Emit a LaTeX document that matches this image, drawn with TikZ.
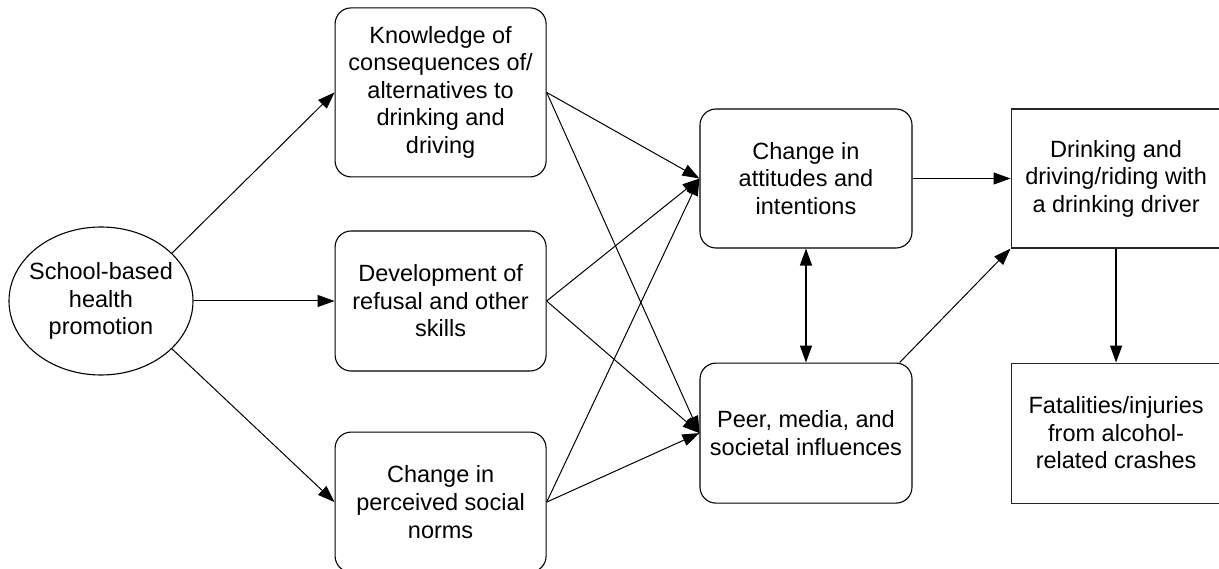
\documentclass[tikz,border=0pt]{standalone}
\usepackage{fontspec}
\setmainfont{Liberation Sans}
\usetikzlibrary{positioning,shapes.geometric,arrows.meta}

\begin{document}
\begin{tikzpicture}[
        x=1pt, y=-1pt,
        txt/.style={font=\fontsize{23.5}{27.5}\selectfont, align=center},
        program/.style={ellipse, draw=black, line width=1.1pt, txt, inner xsep=-10pt, minimum width=184pt, minimum height=148pt},
        factor/.style={rectangle, rounded corners=16pt, draw=black, line width=1.1pt, txt, minimum width=211pt, minimum height=140pt},
        outcome/.style={rectangle, draw=black!85, line width=1.1pt, txt, minimum width=210pt, minimum height=139pt},
        link/.style={-{Triangle[length=17pt, width=12pt]}, line width=1pt},
        mutual/.style={{Triangle[length=17pt, width=12pt]}-{Triangle[length=17pt, width=12pt]}, line width=1.3pt},
    ]
    \useasboundingbox (0,0) rectangle (1219,569);

    \node[program] (school) at (101,301) {School-based\\health\\promotion};
    \node[factor] (skills) [right=141pt of school] {Development of\\refusal and other\\skills};
    \node[factor, minimum height=169pt] (know) [above=53pt of skills] {Knowledge of\\consequences of/\\alternatives to\\drinking and\\driving};
    \node[factor] (norms) [below=60pt of skills] {Change in\\perceived social\\norms};

    \node[factor, minimum width=212pt, minimum height=139pt] (attitude) at (806,178.5) {Change in\\attitudes and\\intentions};
    \node[factor, minimum width=212pt] (peer) [below=114pt of attitude] {Peer, media, and\\societal influences};
    \node[outcome] (behav) [right=98pt of attitude] {Drinking and\\driving/riding with\\a drinking driver};
    \node[outcome, minimum height=140pt] (crash) [below=114pt of behav] {Fatalities/injuries\\from alcohol-\\related crashes};

    \draw[link] (school.34) -- (know.west);
    \draw[link] (school.east) -- (skills.west);
    \draw[link] (school.-34) -- (norms.west);

    \draw[link] (know.east) -- (attitude.west);
    \draw[link] (know.east) -- (peer.west);
    \draw[link] (skills.east) -- (attitude.west);
    \draw[link] (skills.east) -- (peer.west);
    \draw[link] (norms.east) -- (attitude.west);
    \draw[link] (norms.east) -- (peer.west);

    \draw[mutual] (attitude.south) -- (peer.north);
    \draw[link] (attitude.east) -- (behav.west);
    \draw[link] (peer.37) -- (behav.south west);
    \draw[link, line width=1.3pt] (behav.south) -- (crash.north);
\end{tikzpicture}
\end{document}
